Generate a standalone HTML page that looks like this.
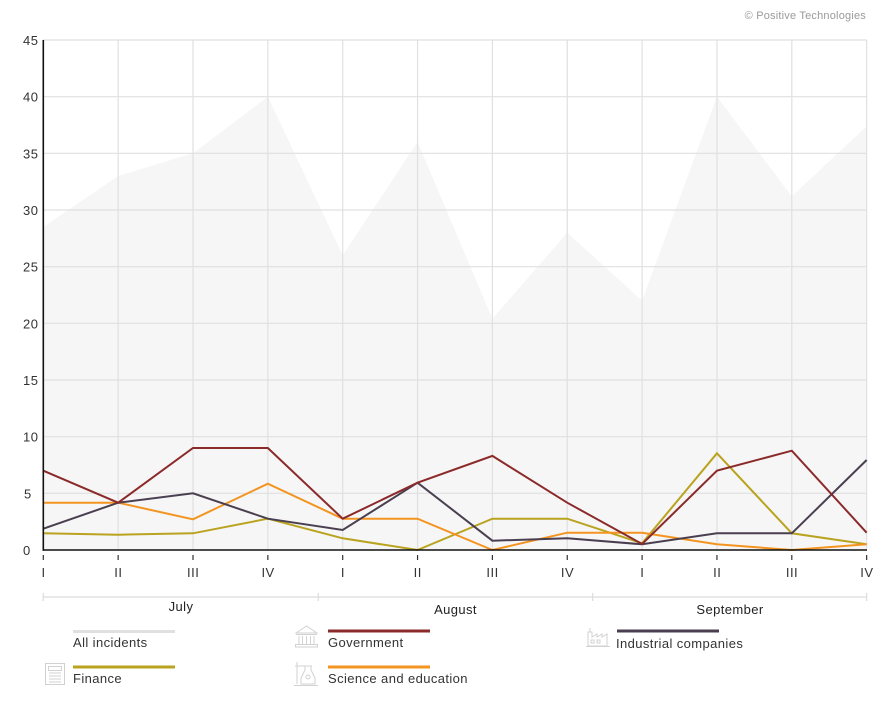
<!DOCTYPE html>
<html><head><meta charset="utf-8"><style>
html,body{margin:0;padding:0;background:#fff;}
svg{display:block;}
text{font-family:"Liberation Sans",sans-serif;}
</style></head><body>
<svg width="894" height="701" viewBox="0 0 894 701" xmlns="http://www.w3.org/2000/svg">
<rect width="894" height="701" fill="#fff"/>
<text x="866" y="19" font-size="11" fill="#9a9a9a" text-anchor="end" letter-spacing="0.2">© Positive Technologies</text>

<!-- area -->
<polygon fill="#f6f6f6" points="43.3,550 43.3,227 118.15,176 193,153.3 267.85,96.7 342.7,255.3 417.55,142 492.4,318.8 567.25,232.7 642.1,300.7 716.95,96.7 791.8,196.4 866.65,126.1 866.65,550"/>

<!-- grid -->
<g stroke="#e0e0e0" stroke-width="1.2">
<line x1="43" y1="40" x2="867" y2="40"/>
<line x1="43" y1="96.7" x2="867" y2="96.7"/>
<line x1="43" y1="153.3" x2="867" y2="153.3"/>
<line x1="43" y1="210" x2="867" y2="210"/>
<line x1="43" y1="266.7" x2="867" y2="266.7"/>
<line x1="43" y1="323.3" x2="867" y2="323.3"/>
<line x1="43" y1="380" x2="867" y2="380"/>
<line x1="43" y1="436.7" x2="867" y2="436.7"/>
<line x1="43" y1="493.3" x2="867" y2="493.3"/>
<line x1="118.15" y1="40" x2="118.15" y2="550"/>
<line x1="193" y1="40" x2="193" y2="550"/>
<line x1="267.85" y1="40" x2="267.85" y2="550"/>
<line x1="342.7" y1="40" x2="342.7" y2="550"/>
<line x1="417.55" y1="40" x2="417.55" y2="550"/>
<line x1="492.4" y1="40" x2="492.4" y2="550"/>
<line x1="567.25" y1="40" x2="567.25" y2="550"/>
<line x1="642.1" y1="40" x2="642.1" y2="550"/>
<line x1="716.95" y1="40" x2="716.95" y2="550"/>
<line x1="791.8" y1="40" x2="791.8" y2="550"/>
<line x1="866.65" y1="40" x2="866.65" y2="550"/>
</g>

<!-- y labels -->
<g font-size="13" fill="#333" letter-spacing="0.5">
<text x="23" y="45">45</text>
<text x="23" y="101.7">40</text>
<text x="23" y="158.3">35</text>
<text x="23" y="215">30</text>
<text x="23" y="271.7">25</text>
<text x="23" y="328.3">20</text>
<text x="23" y="385">15</text>
<text x="23" y="441.7">10</text>
<text x="24" y="498.3">5</text>
<text x="23" y="555">0</text>
</g>

<!-- series -->
<g fill="none" stroke-width="2" stroke-linejoin="miter">
<polyline stroke="#b9a31f" points="43.3,533.3 118.15,534.7 193,533.3 267.85,518.7 342.7,538.3 417.55,550 492.4,518.7 567.25,518.7 642.1,543.3 716.95,453.3 791.8,533.3 866.65,544.3"/>
<polyline stroke="#f39421" points="43.3,502.7 118.15,502.7 193,519.3 267.85,483.7 342.7,518.7 417.55,518.7 492.4,550 567.25,532.7 642.1,532.7 716.95,544.3 791.8,550 866.65,544.3"/>
<polyline stroke="#4a3f50" points="43.3,528.7 118.15,502.7 193,493.3 267.85,518.7 342.7,530 417.55,482.7 492.4,540.7 567.25,538.3 642.1,544.3 716.95,533.3 791.8,533.3 866.65,460"/>
<polyline stroke="#8b2a2a" points="43.3,470.7 118.15,502.7 193,448 267.85,448 342.7,518.7 417.55,482.7 492.4,455.9 567.25,502.7 642.1,544 716.95,470.7 791.8,450.7 866.65,532.7"/>
</g>

<!-- axes -->
<line x1="43.3" y1="40" x2="43.3" y2="550.8" stroke="#111" stroke-width="1.6"/>
<line x1="42.5" y1="550" x2="867" y2="550" stroke="#111" stroke-width="1.6"/>

<!-- ticks -->
<g stroke="#333" stroke-width="1.2">
<line x1="43.3" y1="555" x2="43.3" y2="560"/>
<line x1="118.15" y1="555" x2="118.15" y2="560"/>
<line x1="193" y1="555" x2="193" y2="560"/>
<line x1="267.85" y1="555" x2="267.85" y2="560"/>
<line x1="342.7" y1="555" x2="342.7" y2="560"/>
<line x1="417.55" y1="555" x2="417.55" y2="560"/>
<line x1="492.4" y1="555" x2="492.4" y2="560"/>
<line x1="567.25" y1="555" x2="567.25" y2="560"/>
<line x1="642.1" y1="555" x2="642.1" y2="560"/>
<line x1="716.95" y1="555" x2="716.95" y2="560"/>
<line x1="791.8" y1="555" x2="791.8" y2="560"/>
<line x1="866.65" y1="555" x2="866.65" y2="560"/>
</g>
<g font-size="13" fill="#333" text-anchor="middle" letter-spacing="0.5">
<text x="43.5" y="577">I</text>
<text x="118.4" y="577">II</text>
<text x="193.2" y="577">III</text>
<text x="268.1" y="577">IV</text>
<text x="342.9" y="577">I</text>
<text x="417.8" y="577">II</text>
<text x="492.6" y="577">III</text>
<text x="567.5" y="577">IV</text>
<text x="642.3" y="577">I</text>
<text x="717.2" y="577">II</text>
<text x="792" y="577">III</text>
<text x="866.9" y="577">IV</text>
</g>

<!-- month brackets -->
<g stroke="#dcdcdc" stroke-width="1.2">
<line x1="43" y1="597" x2="867" y2="597"/>
<line x1="43.3" y1="593" x2="43.3" y2="601"/>
<line x1="318.3" y1="593" x2="318.3" y2="601"/>
<line x1="592.7" y1="593" x2="592.7" y2="601"/>
<line x1="866.6" y1="593" x2="866.6" y2="601"/>
</g>
<g font-size="13" fill="#222" text-anchor="middle" letter-spacing="0.4">
<text x="181" y="611">July</text>
<text x="455.5" y="614">August</text>
<text x="730" y="614">September</text>
</g>

<!-- legend -->
<g stroke-width="3">
<line x1="73" y1="631.5" x2="175" y2="631.5" stroke="#e0e0e0"/>
<line x1="328" y1="631" x2="430" y2="631" stroke="#8b2a2a"/>
<line x1="617" y1="631" x2="719" y2="631" stroke="#4a3f50"/>
<line x1="73" y1="667" x2="175" y2="667" stroke="#b9a31f"/>
<line x1="328" y1="667" x2="430" y2="667" stroke="#f39421"/>
</g>
<g font-size="13" fill="#333" letter-spacing="0.4">
<text x="73" y="647">All incidents</text>
<text x="328" y="647">Government</text>
<text x="616" y="648">Industrial companies</text>
<text x="73" y="683">Finance</text>
<text x="328" y="683">Science and education</text>
</g>

<!-- icons -->
<g fill="none" stroke="#d2d2d2" stroke-width="1">
<!-- government -->
<path d="M296,633 L306.5,626 L317,633 Z"/>
<line x1="296" y1="634.5" x2="317" y2="634.5"/>
<line x1="299" y1="636" x2="299" y2="644"/>
<line x1="302.5" y1="636" x2="302.5" y2="644"/>
<line x1="306.5" y1="636" x2="306.5" y2="644"/>
<line x1="310.5" y1="636" x2="310.5" y2="644"/>
<line x1="314" y1="636" x2="314" y2="644"/>
<rect x="295.5" y="644.5" width="22" height="2.5"/>
<!-- industrial -->
<path d="M588,646 L588,632 L592,632 L592,637 L597,634 L597,637 L602,634 L602,637 L607,634 L607,646 Z"/>
<line x1="590" y1="628" x2="590" y2="632"/>
<rect x="591" y="640" width="3" height="3"/>
<rect x="597" y="640" width="3" height="3"/>
<line x1="586" y1="646.5" x2="610" y2="646.5"/>
<!-- finance -->
<rect x="45.5" y="663.5" width="19" height="21"/>
<rect x="48.5" y="666.5" width="13" height="4"/>
<line x1="49" y1="673" x2="61" y2="673"/>
<line x1="49" y1="676" x2="61" y2="676"/>
<line x1="49" y1="679" x2="61" y2="679"/>
<line x1="49" y1="682" x2="61" y2="682"/>
<!-- science -->
<line x1="297" y1="662" x2="297" y2="684"/>
<line x1="295" y1="666" x2="312" y2="666"/>
<path d="M305,666 L305,670 L301,678 L301,684 L315,684 L315,678 L311,670 L311,666"/>
<circle cx="308" cy="677" r="2"/>
<line x1="294" y1="685.5" x2="318" y2="685.5"/>
</g>
</svg>
</body></html>
